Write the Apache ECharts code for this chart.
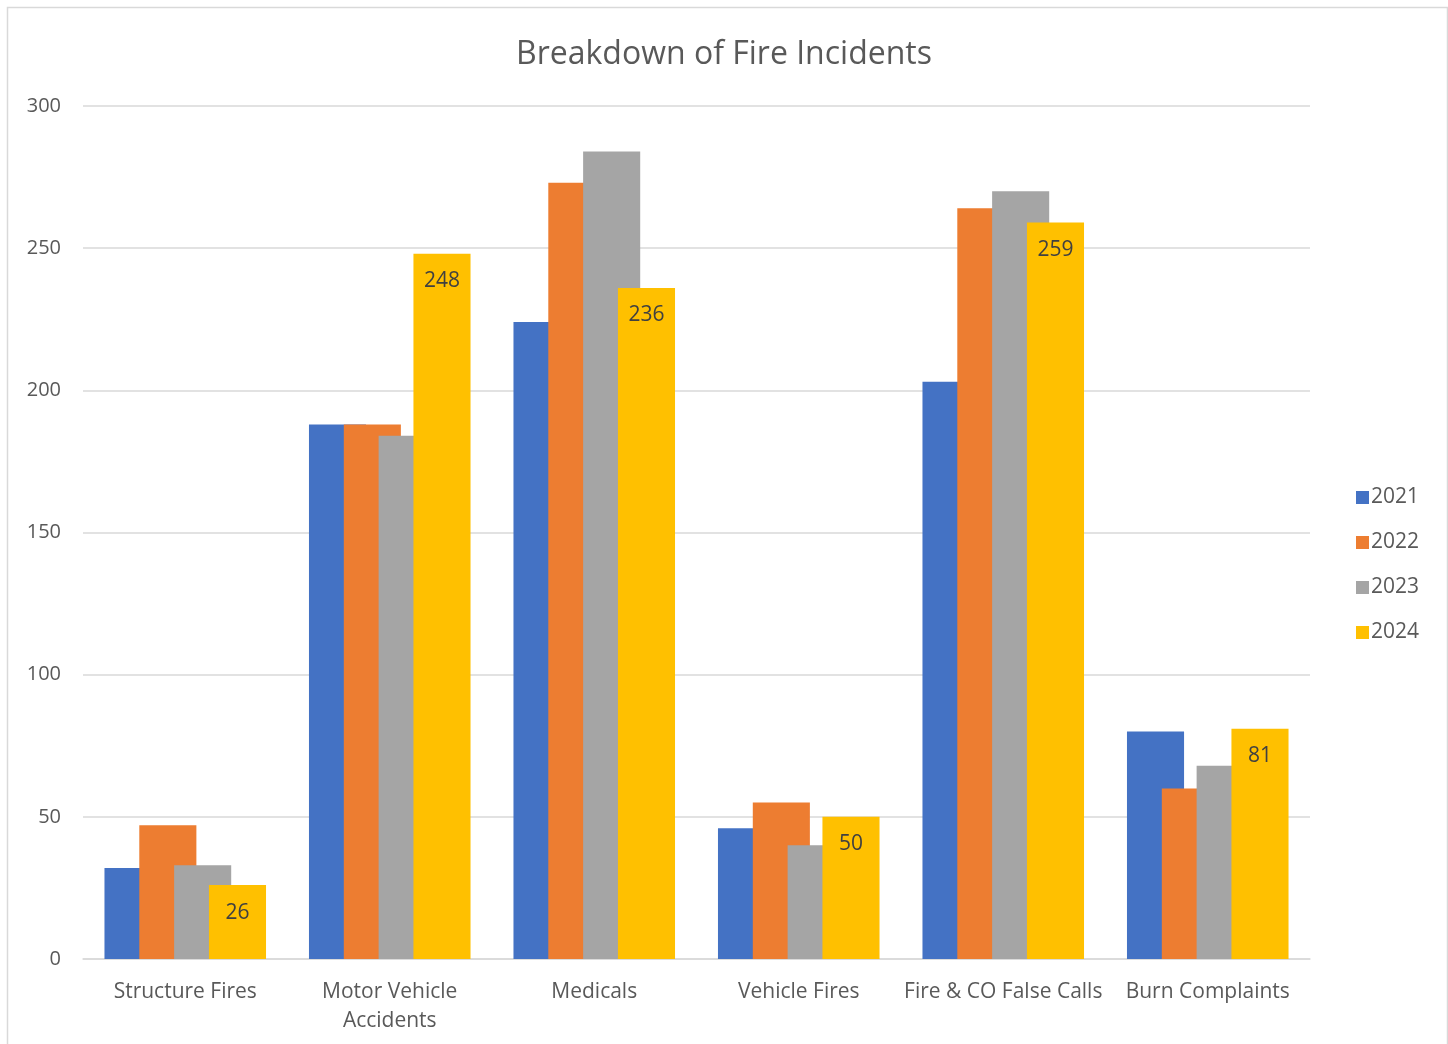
<!DOCTYPE html>
<html>
<head>
<meta charset="utf-8">
<script src="https://cdn.jsdelivr.net/npm/echarts@6/dist/echarts.min.js"></script>
<style>
html,body{margin:0;padding:0;background:#fff;}
#c{width:1448px;height:1044px;}
</style>
</head>
<body>
<div id="c"></div>
<script>
const categories = ['Structure Fires', 'Motor Vehicle\nAccidents', 'Medicals', 'Vehicle Fires', 'Fire & CO False Calls', 'Burn Complaints'];
const years = ['2021', '2022', '2023', '2024'];
const v2021 = [32, 188, 224, 46, 203, 80];
const v2022 = [47, 188, 273, 55, 264, 60];
const v2023 = [33, 184, 284, 40, 270, 68];
const v2024 = [26, 248, 236, 50, 259, 81];
const yTicks = [0, 50, 100, 150, 200, 250, 300];
const colors = ['#4472C4', '#ED7D31', '#A5A5A5', '#FFC000'];
const seriesValues = [v2021, v2022, v2023, v2024];

const FONT = '"Open Sans", "Liberation Sans", sans-serif';
const chart = echarts.init(document.getElementById('c'), null, {renderer: 'canvas'});
chart.setOption({
  animation: false,
  textStyle: {fontFamily: FONT},
  graphic: [{
    type: 'rect', left: 5, top: 5,
    shape: {width: 1440, height: 1100},
    style: {fill: 'none', stroke: '#D9D9D9', lineWidth: 1.5},
    silent: true
  }],
  title: {
    text: 'Breakdown of Fire Incidents',
    left: 'center', top: 34,
    textStyle: {fontFamily: FONT, fontSize: 32, fontWeight: 'normal', color: '#595959'}
  },
  legend: {
    orient: 'vertical',
    left: 1351, top: 482,
    itemWidth: 13, itemHeight: 13, itemGap: 24,
    icon: 'rect',
    data: years,
    textStyle: {fontFamily: FONT, fontSize: 21, color: '#595959', padding: [0, 0, 0, -3]}
  },
  grid: {left: 83, right: 138, top: 106, bottom: 85, containLabel: false},
  xAxis: {
    type: 'category',
    data: categories,
    axisLine: {lineStyle: {color: '#D9D9D9', width: 1.5}},
    axisTick: {show: false},
    axisLabel: {fontFamily: FONT, fontSize: 21, color: '#595959', margin: 19, lineHeight: 29, interval: 0}
  },
  yAxis: {
    type: 'value',
    min: 0, max: 300, interval: 50,
    axisLine: {show: false},
    axisTick: {show: false},
    splitLine: {lineStyle: {color: '#D9D9D9', width: 1.5}},
    axisLabel: {
      fontFamily: FONT, fontSize: 20, color: '#595959', margin: 22,
      formatter: function (v) { return yTicks.indexOf(v) >= 0 ? String(v) : ''; }
    }
  },
  series: years.map(function (y, i) {
    return {
      name: y,
      type: 'bar',
      data: seriesValues[i],
      itemStyle: {color: colors[i]},
      barGap: '-39%',
      barCategoryGap: '21%',
      z: 2 + i,
      label: i === 3 ? {
        show: true, position: 'insideTop', distance: 17,
        fontFamily: FONT, fontSize: 21, color: '#404040'
      } : {show: false}
    };
  })
});
</script>
</body>
</html>
